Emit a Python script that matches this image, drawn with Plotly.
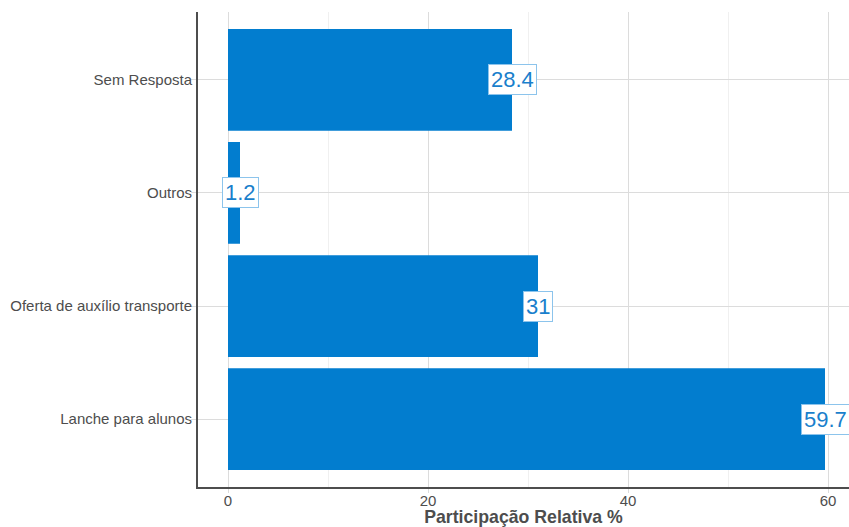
import plotly.graph_objects as go

categories = ["Lanche para alunos", "Oferta de auxílio transporte", "Outros", "Sem Resposta"]
values = [59.7, 31, 1.2, 28.4]
labels = ["59.7", "31", "1.2", "28.4"]

BAR = "#027DCF"
fig = go.Figure()
fig.add_trace(go.Bar(
    x=values, y=categories, orientation="h",
    marker=dict(color=BAR, line=dict(width=0)),
    width=0.9, showlegend=False, hoverinfo="skip",
))

for v, c, t in zip(values, categories, labels):
    fig.add_annotation(
        x=v, y=c, text=t, showarrow=False,
        font=dict(family="Liberation Sans, Arial, sans-serif", size=22, color="#1A7FCC"),
        bgcolor="white", bordercolor="#8CC4EC", borderwidth=1, borderpad=2,
        xanchor="center", yanchor="middle",
    )

fig.update_layout(
    width=849, height=527,
    margin=dict(l=198, r=0, t=12, b=40, autoexpand=False),
    plot_bgcolor="white", paper_bgcolor="white",
    bargap=0.1,
    font=dict(family="Liberation Sans, Arial, sans-serif", color="#4D4D4D", size=15),
    xaxis=dict(
        range=[-3, 62.1], tickvals=[0, 20, 40, 60],
        showgrid=True, gridcolor="#DCDCDC", gridwidth=1,
        minor=dict(tickvals=[10, 30, 50], showgrid=True, gridcolor="#F0F0F0", gridwidth=1),
        zeroline=False,
        showline=True, linecolor="#4D4D4D", linewidth=2,
        ticks="outside", ticklen=4, tickcolor="#DCDCDC",
        ticklabelstandoff=-5,
        tickfont=dict(size=15, color="#4D4D4D"),
        title=dict(text="<b>Participação Relativa %</b>", font=dict(size=17.7, color="#4D4D4D"), standoff=0),
        automargin=False,
    ),
    yaxis=dict(
        range=[-0.6, 3.6],
        categoryorder="array", categoryarray=categories,
        showgrid=True, gridcolor="#DCDCDC", gridwidth=1,
        showline=True, linecolor="#4D4D4D", linewidth=2,
        ticks="outside", ticklen=5, tickcolor="#DCDCDC",
        ticklabelstandoff=-4,
        tickfont=dict(size=15, color="#4D4D4D"),
        automargin=False,
    ),
)

fig.write_html(
    "out.html",
    config={"displayModeBar": False},
    post_script="document.body.style.margin='0';document.body.style.overflow='hidden';",
)
